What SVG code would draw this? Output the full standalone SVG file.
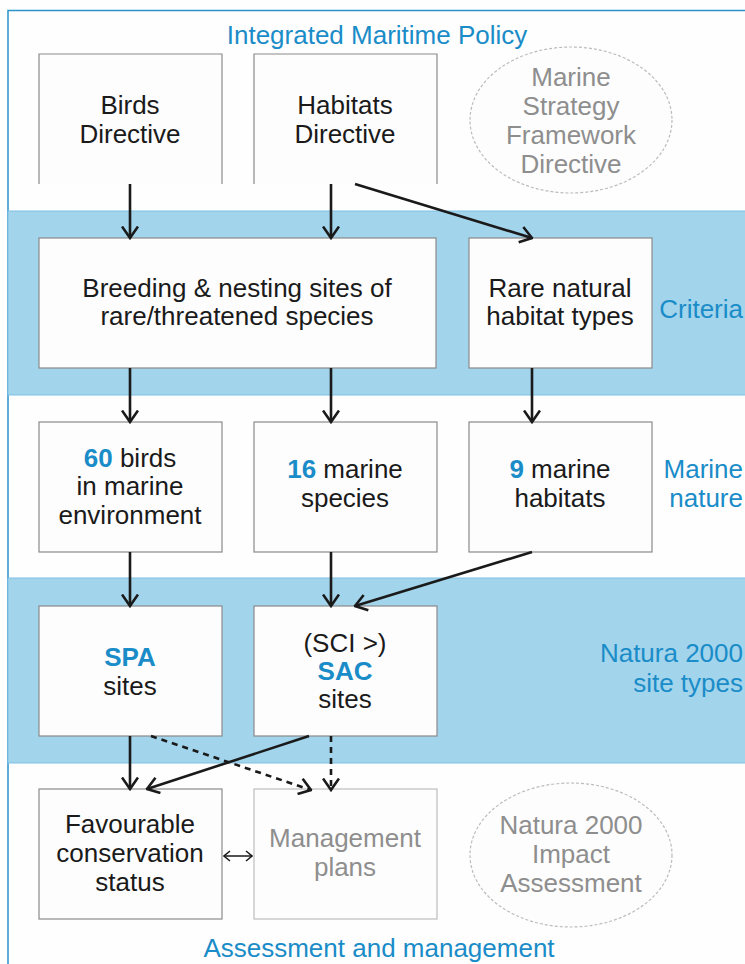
<svg xmlns="http://www.w3.org/2000/svg" width="745" height="964" viewBox="0 0 745 964">
<style>
text{font-family:"Liberation Sans",Arial,sans-serif;font-size:26px;fill:#1a1a1a;text-anchor:middle}
.blue{fill:#1a8cc8}
.lbl{fill:#1a8cc8;text-anchor:end}
.gray{fill:#8e8e8e}
.b{font-weight:bold;fill:#1a8cc8}
.box{fill:#fdfdfd;stroke:#8a8a8a;stroke-width:1.2}
.lbox{fill:#fdfdfd;stroke:#bdbdbd;stroke-width:1.2}
.ell{fill:#fdfdfd;stroke:#bcbcbc;stroke-width:1.2;stroke-dasharray:3 2}
.band{fill:#a2d4ec;stroke:#7cc0e3;stroke-width:1}
.c{fill:none;stroke:#1a1a1a;stroke-width:2.6}
.d{fill:none;stroke:#1a1a1a;stroke-width:2.6;stroke-dasharray:6 5}
.t{fill:none;stroke:#1a1a1a;stroke-width:1.5}
</style>
<defs>
<marker id="ah" markerUnits="userSpaceOnUse" viewBox="0 0 14 18" refX="12.5" refY="9" markerWidth="14" markerHeight="18" orient="auto">
<path d="M1,1 L12.5,9 L1,17" fill="none" stroke="#1a1a1a" stroke-width="2.6"/>
</marker>
<marker id="sm" markerUnits="userSpaceOnUse" viewBox="0 0 8 12" refX="7" refY="6" markerWidth="8" markerHeight="12" orient="auto-start-reverse">
<path d="M1,1 L7,6 L1,11" fill="none" stroke="#1a1a1a" stroke-width="1.5"/>
</marker>
</defs>
<rect x="0" y="0" width="745" height="964" fill="#fefefe"/>
<rect x="8" y="10.5" width="760" height="980" fill="none" stroke="#2a93c9" stroke-width="1.5"/>
<g id="bands">
<rect class="band" x="8" y="211" width="760" height="184"/>
<rect class="band" x="8" y="578" width="760" height="185"/>
</g>
<g id="labels">
<text class="blue" x="377" y="44">Integrated Maritime Policy</text>
<text class="lbl" x="743" y="318">Criteria</text>
<text class="lbl" x="743" y="478">Marine</text>
<text class="lbl" x="743" y="507">nature</text>
<text class="lbl" x="743" y="662">Natura 2000</text>
<text class="lbl" x="743" y="692">site types</text>
<text class="blue" x="379" y="957">Assessment and management</text>
</g>
<g id="birds-directive">
<path class="box" d="M39,184 V54 H222 V184"/>
<text x="130" y="114">Birds</text>
<text x="130" y="143">Directive</text>
</g>
<g id="habitats-directive">
<path class="box" d="M254,184 V54 H437 V184"/>
<text x="345" y="114">Habitats</text>
<text x="345" y="143">Directive</text>
</g>
<g id="msfd">
<ellipse class="ell" cx="571" cy="120" rx="101" ry="73"/>
<text class="gray" x="571" y="86">Marine</text>
<text class="gray" x="571" y="115">Strategy</text>
<text class="gray" x="571" y="144">Framework</text>
<text class="gray" x="571" y="173">Directive</text>
</g>
<g id="breeding">
<rect class="box" x="39" y="238" width="397" height="130"/>
<text x="237" y="297">Breeding &amp; nesting sites of</text>
<text x="237" y="325">rare/threatened species</text>
</g>
<g id="rare-habitat">
<rect class="box" x="469" y="238" width="183" height="130"/>
<text x="560" y="297">Rare natural</text>
<text x="560" y="325">habitat types</text>
</g>
<g id="birds60">
<rect class="box" x="39" y="422" width="183" height="130"/>
<text x="130" y="467"><tspan class="b">60</tspan> birds</text>
<text x="130" y="495">in marine</text>
<text x="130" y="524">environment</text>
</g>
<g id="species16">
<rect class="box" x="254" y="422" width="183" height="130"/>
<text x="345" y="478"><tspan class="b">16</tspan> marine</text>
<text x="345" y="507">species</text>
</g>
<g id="habitats9">
<rect class="box" x="469" y="422" width="183" height="130"/>
<text x="560" y="478"><tspan class="b">9</tspan> marine</text>
<text x="560" y="507">habitats</text>
</g>
<g id="spa">
<rect class="box" x="39" y="606" width="183" height="130"/>
<text class="b" x="130" y="666">SPA</text>
<text x="130" y="695">sites</text>
</g>
<g id="sac">
<rect class="box" x="254" y="606" width="183" height="130"/>
<text x="345" y="652">(SCI &gt;)</text>
<text class="b" x="345" y="680">SAC</text>
<text x="345" y="708">sites</text>
</g>
<g id="favourable">
<rect class="box" x="39" y="789" width="183" height="130"/>
<text x="130" y="833">Favourable</text>
<text x="130" y="862">conservation</text>
<text x="130" y="891">status</text>
</g>
<g id="management">
<rect class="lbox" x="254" y="789" width="183" height="130"/>
<text class="gray" x="345" y="847">Management</text>
<text class="gray" x="345" y="876">plans</text>
</g>
<g id="impact">
<ellipse class="ell" cx="571" cy="855" rx="101" ry="72"/>
<text class="gray" x="571" y="834">Natura 2000</text>
<text class="gray" x="571" y="863">Impact</text>
<text class="gray" x="571" y="892">Assessment</text>
</g>
<g id="connectors">
<line class="c" x1="130" y1="184" x2="130" y2="238" marker-end="url(#ah)"/>
<line class="c" x1="331" y1="184" x2="331" y2="238" marker-end="url(#ah)"/>
<line class="c" x1="355" y1="184" x2="532" y2="238" marker-end="url(#ah)"/>
<line class="c" x1="130" y1="368" x2="130" y2="422" marker-end="url(#ah)"/>
<line class="c" x1="331" y1="368" x2="331" y2="422" marker-end="url(#ah)"/>
<line class="c" x1="532" y1="368" x2="532" y2="422" marker-end="url(#ah)"/>
<line class="c" x1="130" y1="552" x2="130" y2="606" marker-end="url(#ah)"/>
<line class="c" x1="331" y1="552" x2="331" y2="606" marker-end="url(#ah)"/>
<line class="c" x1="532" y1="552" x2="355" y2="606" marker-end="url(#ah)"/>
<line class="c" x1="130" y1="736" x2="130" y2="789" marker-end="url(#ah)"/>
<line class="c" x1="309" y1="736" x2="147" y2="789" marker-end="url(#ah)"/>
<line class="d" x1="151" y1="736" x2="311" y2="790" marker-end="url(#ah)"/>
<line class="d" x1="331" y1="736" x2="331" y2="790" marker-end="url(#ah)"/>
<line class="t" x1="224" y1="856" x2="252" y2="856" marker-start="url(#sm)" marker-end="url(#sm)"/>
</g>
</svg>
